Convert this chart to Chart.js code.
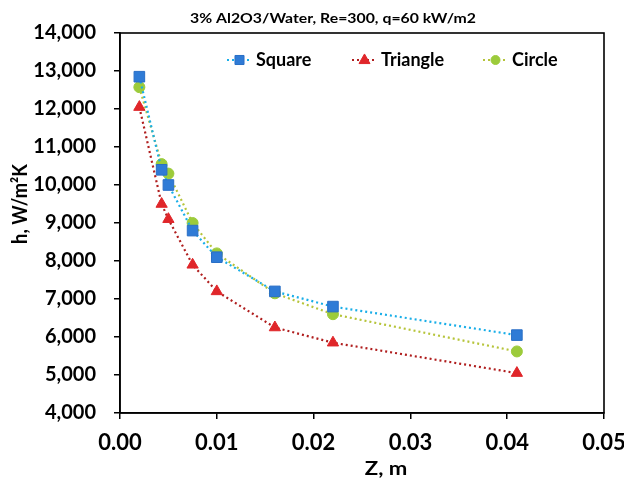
<!DOCTYPE html>
<html>
<head>
<meta charset="utf-8">
<script src="https://cdn.jsdelivr.net/npm/chart.js@4"></script>
<style>
  html, body { margin: 0; padding: 0; background: #fff; }
</style>
</head>
<body>
<canvas id="myChart" width="624" height="479"></canvas>
<script>
const chartTitle = "3% Al2O3/Water, Re=300, q=60 kW/m2";
const xTitle = "Z, m";
const yTitle = "h, W/m²K";
const zValues = [0.002, 0.0043, 0.005, 0.0075, 0.01, 0.016, 0.022, 0.041];
const squareH = [12850, 10400, 10000, 8800, 8100, 7200, 6800, 6050];
const triangleH = [12050, 9500, 9100, 7900, 7200, 6250, 5850, 5050];
const circleH = [12575, 10550, 10300, 9000, 8200, 7150, 6600, 5620];
const xTicks = [0, 0.01, 0.02, 0.03, 0.04, 0.05];
const yTicks = [4000, 5000, 6000, 7000, 8000, 9000, 10000, 11000, 12000, 13000, 14000];

const FONT = "Lato, 'Open Sans', sans-serif";

function points(ys) {
  return zValues.map((z, i) => ({ x: z, y: ys[i] }));
}

const data = {
  datasets: [
    {
      label: "Square",
      data: points(squareH),
      borderColor: "#19AEE8",
      backgroundColor: "#2F7BD6",
      pointBorderColor: "#2A6FC6",
      pointStyle: "rect",
      pointRadius: 7.5,
      legendX: 107,
      legendR: 6.4,
    },
    {
      label: "Triangle",
      data: points(triangleH),
      borderColor: "#B01E1E",
      backgroundColor: "#E0262A",
      pointBorderColor: "#E0262A",
      pointStyle: "triangle",
      pointRadius: 6.5,
      legendX: 232,
      legendR: 5.5,
    },
    {
      label: "Circle",
      data: points(circleH),
      borderColor: "#B6C43A",
      backgroundColor: "#9CCB3B",
      pointBorderColor: "#9CCB3B",
      pointStyle: "circle",
      pointRadius: 5.5,
      legendX: 363,
      legendR: 4.5,
    },
  ],
};
data.datasets.forEach((d) => {
  d.showLine = true;
  d.borderWidth = 2.2;
  d.borderDash = [2, 3];
  d.pointBorderWidth = 1;
  d.tension = 0;
});

function drawMarker(ctx, style, x, y, r, fill, stroke) {
  ctx.save();
  ctx.fillStyle = fill;
  ctx.strokeStyle = stroke;
  ctx.lineWidth = 1;
  ctx.beginPath();
  if (style === "rect") {
    const s = r / Math.SQRT2;
    ctx.rect(x - s, y - s, 2 * s, 2 * s);
  } else if (style === "triangle") {
    ctx.moveTo(x, y - r * 1.1);
    ctx.lineTo(x + r, y + r * 0.65);
    ctx.lineTo(x - r, y + r * 0.65);
    ctx.closePath();
  } else {
    ctx.arc(x, y, r, 0, Math.PI * 2);
  }
  ctx.fill();
  ctx.stroke();
  ctx.restore();
}

// text drawn a bit wider than the font, like the original picture
function wideText(ctx, text, x, y, size, sx, rotate) {
  ctx.save();
  ctx.translate(x, y);
  if (rotate) ctx.rotate(-Math.PI / 2);
  ctx.scale(sx, 1);
  ctx.fillStyle = "#000";
  ctx.font = "bold " + size + "px " + FONT;
  ctx.textAlign = "center";
  ctx.textBaseline = "middle";
  ctx.fillText(text, 0, 0);
  ctx.restore();
}

const framePlugin = {
  id: "frame",
  afterDatasetsDraw(chart) {
    const { ctx, chartArea } = chart;
    ctx.save();
    ctx.strokeStyle = "#000";
    ctx.lineWidth = 1.6;
    ctx.strokeRect(chartArea.left, chartArea.top, chartArea.right - chartArea.left, chartArea.bottom - chartArea.top);
    ctx.restore();

    wideText(ctx, chartTitle, 333, 18, 14, 1.13, false);
    wideText(ctx, xTitle, 386, 469, 18, 1.23, false);
    wideText(ctx, yTitle, 21, 204, 20, 0.92, true);

    // legend inside plot area
    const ly = chartArea.top + 27;
    ctx.save();
    chart.data.datasets.forEach((d) => {
      const x0 = chartArea.left + d.legendX;
      ctx.strokeStyle = d.borderColor;
      ctx.lineWidth = 2.2;
      ctx.setLineDash([2, 3]);
      ctx.beginPath();
      ctx.moveTo(x0, ly);
      ctx.lineTo(x0 + 25, ly);
      ctx.stroke();
      ctx.setLineDash([]);
      drawMarker(ctx, d.pointStyle, x0 + 12.5, ly, d.legendR, d.backgroundColor, d.pointBorderColor);
      ctx.fillStyle = "#000";
      ctx.font = "bold 18px " + FONT;
      ctx.textAlign = "left";
      ctx.textBaseline = "middle";
      ctx.fillText(d.label, x0 + 29, ly);
    });
    ctx.restore();
  },
};

const config = {
  type: "scatter",
  data: data,
  options: {
    responsive: false,
    animation: false,
    devicePixelRatio: 1,
    layout: { padding: { top: 33, right: 20, left: 0, bottom: 0 } },
    plugins: {
      legend: { display: false },
      tooltip: { enabled: false },
    },
    scales: {
      x: {
        type: "linear",
        min: xTicks[0],
        max: xTicks[xTicks.length - 1],
        afterBuildTicks: (scale) => { scale.ticks = xTicks.map((v) => ({ value: v })); },
        afterFit: (scale) => {
          scale.height = 66;
          scale.paddingLeft = 0;
          scale.paddingRight = 0;
        },
        grid: { drawOnChartArea: false, drawTicks: true, tickLength: 6, color: "#000", lineWidth: 1.5 },
        border: { color: "#000", width: 1.6 },
        ticks: {
          color: "#000",
          padding: 11,
          font: { family: FONT, size: 22, weight: "bold" },
          callback: (v) => Number(v).toFixed(2),
        },
      },
      y: {
        type: "linear",
        min: yTicks[0],
        max: yTicks[yTicks.length - 1],
        afterBuildTicks: (scale) => { scale.ticks = yTicks.map((v) => ({ value: v })); },
        afterFit: (scale) => {
          scale.width = 120;
          scale.paddingTop = 0;
          scale.paddingBottom = 0;
        },
        grid: { drawOnChartArea: false, drawTicks: true, tickLength: 6, color: "#000", lineWidth: 1.5 },
        border: { color: "#000", width: 1.6 },
        ticks: {
          color: "#000",
          padding: 18,
          font: { family: FONT, size: 20, weight: "bold" },
          callback: (v) => Number(v).toLocaleString("en-US"),
        },
      },
    },
  },
  plugins: [framePlugin],
};

const myChart = new Chart(document.getElementById("myChart"), config);
</script>
</body>
</html>
